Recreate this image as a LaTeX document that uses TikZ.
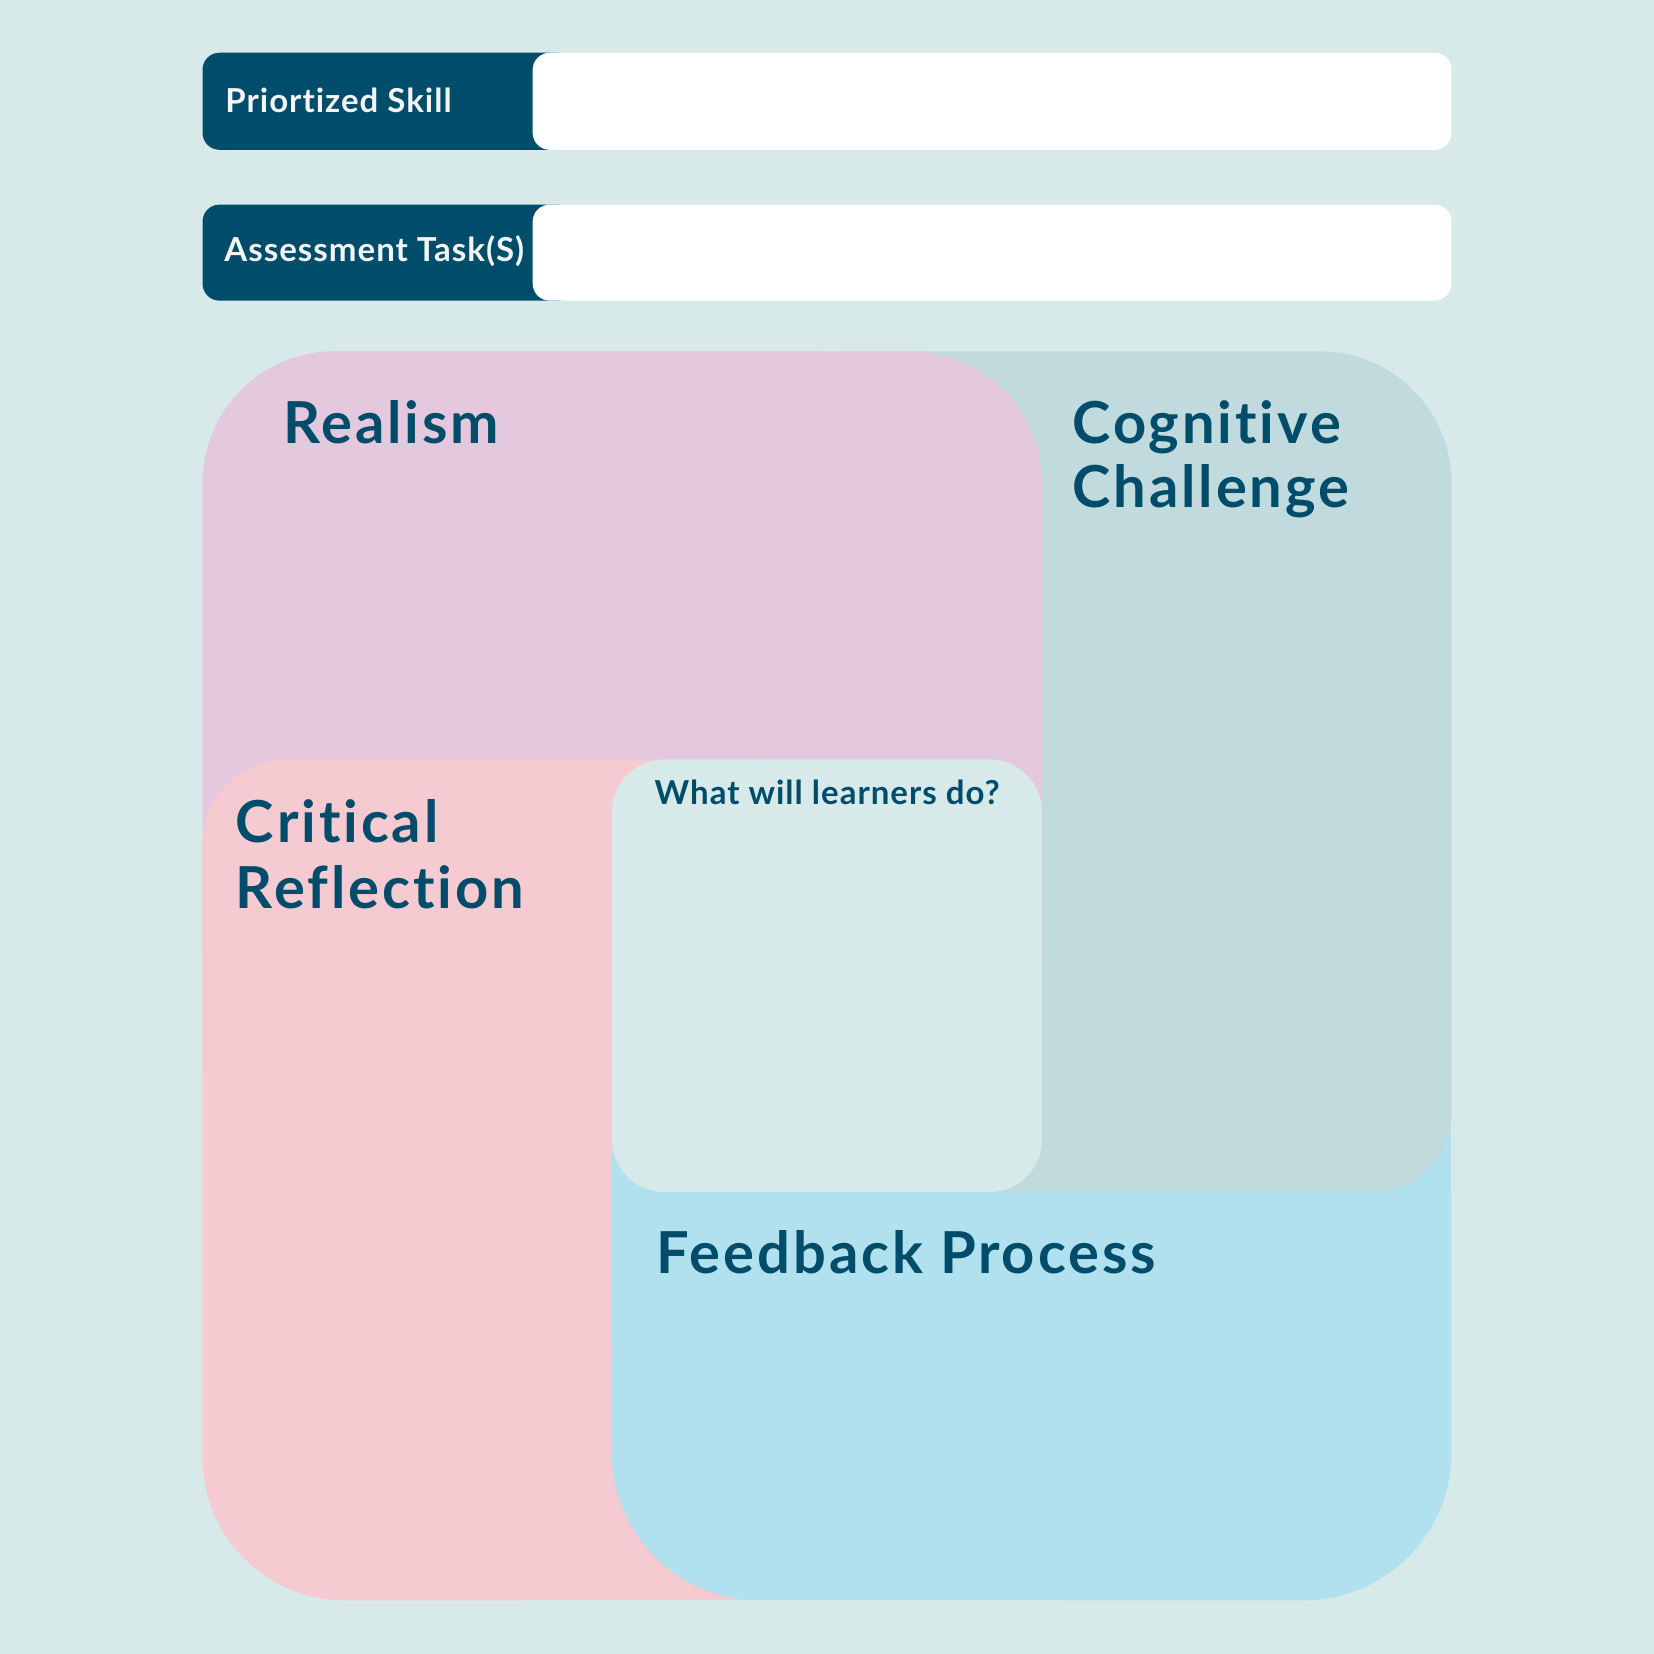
\documentclass[tikz,border=0pt]{standalone}
\usepackage{fontspec}
\setmainfont{Lato}[Ligatures=NoCommon]
\newfontfamily\bigfont{Lato}[LetterSpace=5, Ligatures=NoCommon]
\newfontfamily\smallfont{Lato}[LetterSpace=3, Ligatures=NoCommon]
\definecolor{bgc}{HTML}{D8E9EA}
\definecolor{realc}{HTML}{E4C8DE}
\definecolor{cogc}{HTML}{C0DADE}
\definecolor{critc}{HTML}{F5CAD1}
\definecolor{feedc}{HTML}{B1E0EF}
\definecolor{darkc}{HTML}{004D6B}
\definecolor{lightc}{HTML}{F4F4F4}
\tikzset{
  bigtxt/.style={inner sep=0pt, anchor=base west, text=darkc, font=\bigfont\fontsize{15.6}{18}\selectfont\bfseries},
  smalltxt/.style={inner sep=0pt, anchor=base west, text=darkc, font=\smallfont\fontsize{8.9}{10}\selectfont\bfseries},
  bartxt/.style={inner sep=0pt, anchor=base west, text=lightc, font=\smallfont\fontsize{8.9}{10}\selectfont\bfseries},
}
\begin{document}
\begin{tikzpicture}[x=0.01cm,y=0.01cm]
\fill[bgc] (0,0) rectangle (1568,1568);
\useasboundingbox (0,0) rectangle (1568,1568);
% top bars
\fill[darkc, rounded corners=0.16cm] (192,1426) rectangle (545,1518);
\fill[white, rounded corners=0.16cm] (505,1426) rectangle (1376,1518);
\fill[darkc, rounded corners=0.16cm] (192,1283) rectangle (545,1374);
\fill[white, rounded corners=0.16cm] (505,1283) rectangle (1376,1374);
\node[bartxt] (skill) at (213,1461) {Priortized Skill};
\node[bartxt] (task) at (212,1320) {Assessment Task(S)};
% feedback patch behind cognitive corner
\fill[feedc] (1250,428) rectangle (1376,568);
% cognitive challenge
\fill[cogc] (800,438) -- (800,1235) -- (1251,1235) arc[start angle=90,end angle=0,radius=1.25cm]
  -- (1376,513) arc[start angle=0,end angle=-90,radius=0.75cm] -- cycle;
% realism
\fill[realc] (192,668) -- (192,1110) arc[start angle=180,end angle=90,radius=1.25cm]
  -- (863,1235) arc[start angle=90,end angle=0,radius=1.25cm] -- (988,668) -- cycle;
% critical reflection
\fill[critc] (720,848) -- (272,848) arc[start angle=90,end angle=180,radius=0.8cm]
  -- (192,186) arc[start angle=180,end angle=270,radius=1.35cm] -- (720,51) -- cycle;
% feedback process
\fill[feedc] (580,568) -- (760,568) -- (760,438) -- (1376,438) -- (1376,191)
  arc[start angle=0,end angle=-90,radius=1.4cm] -- (720,51)
  arc[start angle=270,end angle=180,radius=1.4cm] -- cycle;
% centre box
\fill[bgc, rounded corners=0.5cm] (580,438) rectangle (988,848);
% labels
\node[bigtxt] (realism) at (268,1148) {Realism};
\node[bigtxt] (cog1) at (1016,1148) {Cognitive};
\node[bigtxt] (cog2) at (1016,1087) {Challenge};
\node[bigtxt] (crit1) at (223,769) {Critical};
\node[bigtxt] (crit2) at (223,707) {Reflection};
\node[bigtxt] (feed) at (622,361) {Feedback Process};
\node[smalltxt] (what) at (620,805) {What will learners do?};
\end{tikzpicture}
\end{document}
